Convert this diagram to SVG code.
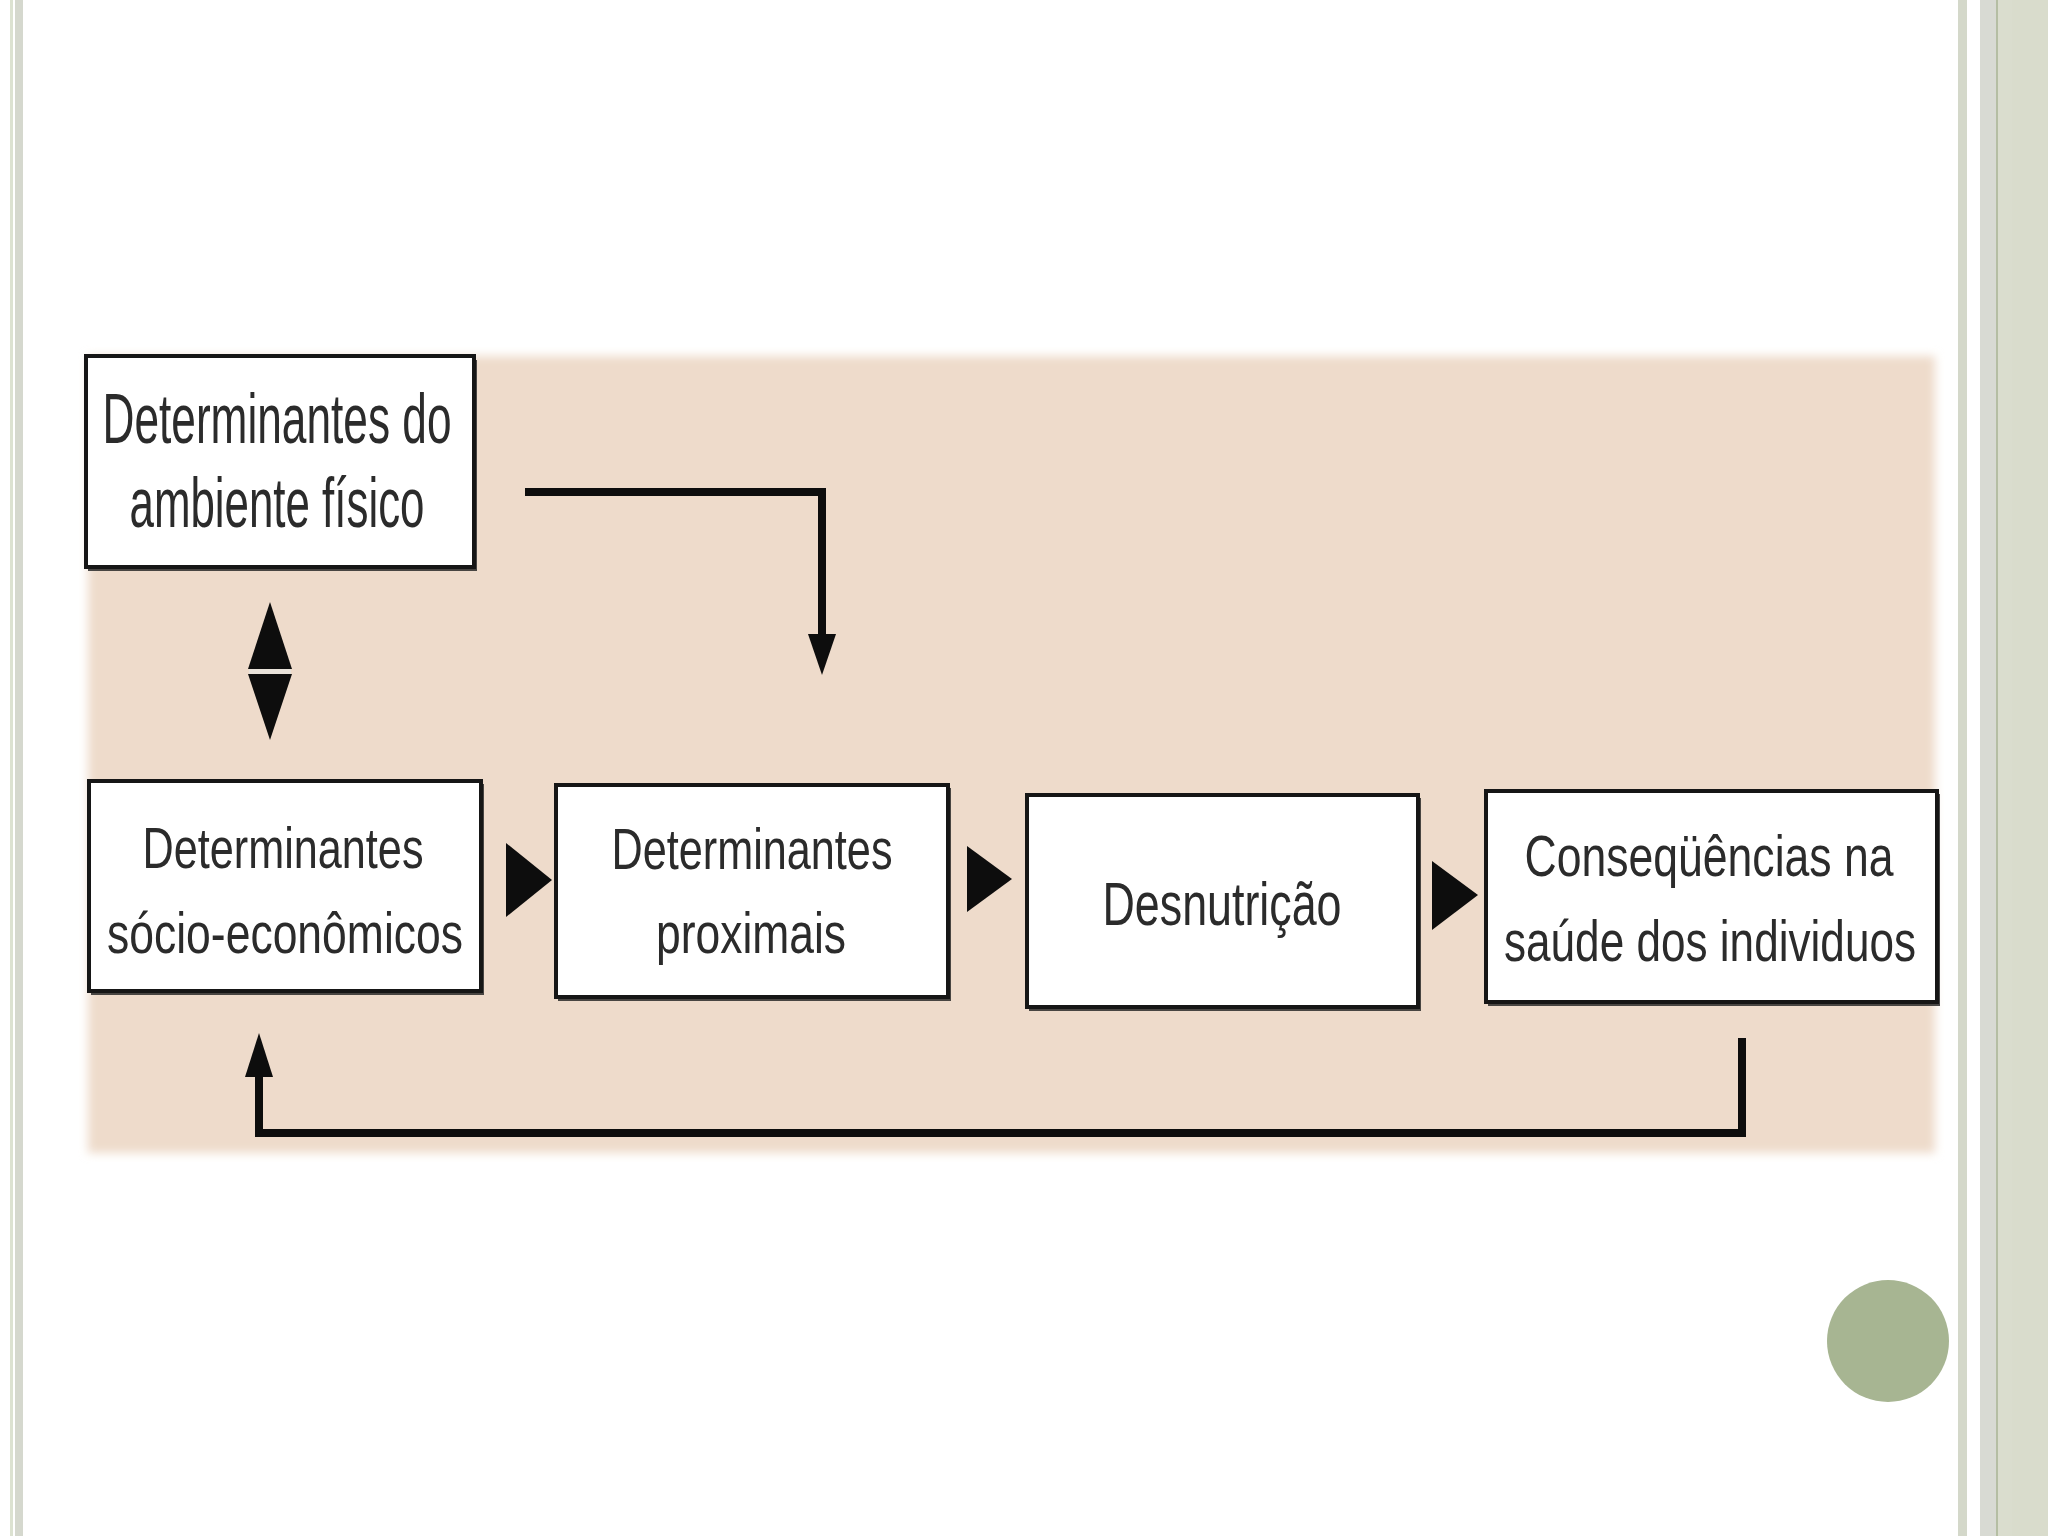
<svg xmlns="http://www.w3.org/2000/svg" width="2048" height="1536" viewBox="0 0 2048 1536">
<defs>
<style>
.box{fill:#FFFFFF;stroke:#161616;stroke-width:4}
.shadow{fill:#2a2a2a;opacity:0.85}
.lbl{font-family:"Liberation Sans","Arial",sans-serif;fill:#2b2b2b}
.conn{fill:none;stroke:#0d0d0d;stroke-width:8;stroke-linejoin:miter}
.head{fill:#0d0d0d}
</style>
<filter id="soft" x="-5%" y="-5%" width="110%" height="110%"><feGaussianBlur stdDeviation="5"/></filter>
</defs>
<rect x="0" y="0" width="2048" height="1536" fill="#FFFFFF"/>
<g id="frame">
<rect x="10" y="0" width="3" height="1536" fill="#DCE2D1"/>
<rect x="15" y="0" width="8" height="1536" fill="#D5D8CE"/>
<rect x="1958" y="0" width="9" height="1536" fill="#D4D8CA"/>
<rect x="1980" y="0" width="16" height="1536" fill="#D8DAD3"/>
<rect x="1996" y="0" width="2" height="1536" fill="#B5BEA3"/>
<rect x="1998" y="0" width="50" height="1536" fill="#DADDCE"/>
<rect x="2012" y="0" width="36" height="1536" fill="#D9DCCC"/>
</g>
<circle id="dot" cx="1888" cy="1341" r="61" fill="#A7B592"/>
<rect id="panel" x="88" y="356" width="1847" height="797" fill="#EEDBCB" filter="url(#soft)"/>
<g id="node-ambiente">
<rect class="shadow" x="88" y="360" width="389" height="211"/>
<rect class="box" x="86" y="356" width="388" height="211"/>
<text class="lbl" x="277" y="443" font-size="70" text-anchor="middle" textLength="349" lengthAdjust="spacingAndGlyphs">Determinantes do</text>
<text class="lbl" x="277" y="527" font-size="70" text-anchor="middle" textLength="295" lengthAdjust="spacingAndGlyphs">ambiente físico</text>
</g>
<g id="node-socio">
<rect class="shadow" x="91" y="784" width="393" height="211"/>
<rect class="box" x="89" y="781" width="392" height="210"/>
<text class="lbl" x="283" y="868" font-size="58" text-anchor="middle" textLength="281" lengthAdjust="spacingAndGlyphs">Determinantes</text>
<text class="lbl" x="285" y="953" font-size="58" text-anchor="middle" textLength="356" lengthAdjust="spacingAndGlyphs">sócio-econômicos</text>
</g>
<g id="node-proximais">
<rect class="shadow" x="558" y="788" width="393" height="213"/>
<rect class="box" x="556" y="785" width="392" height="212"/>
<text class="lbl" x="752" y="869" font-size="58" text-anchor="middle" textLength="281" lengthAdjust="spacingAndGlyphs">Determinantes</text>
<text class="lbl" x="751" y="953" font-size="58" text-anchor="middle" textLength="190" lengthAdjust="spacingAndGlyphs">proximais</text>
</g>
<g id="node-desnutricao">
<rect class="shadow" x="1029" y="798" width="392" height="213"/>
<rect class="box" x="1027" y="795" width="391" height="212"/>
<text class="lbl" x="1222" y="925" font-size="62" text-anchor="middle" textLength="239" lengthAdjust="spacingAndGlyphs">Desnutrição</text>
</g>
<g id="node-consequencias">
<rect class="shadow" x="1488" y="794" width="452" height="212"/>
<rect class="box" x="1486" y="791" width="451" height="211"/>
<text class="lbl" x="1709" y="876" font-size="57" text-anchor="middle" textLength="369" lengthAdjust="spacingAndGlyphs">Conseqüências na</text>
<text class="lbl" x="1710" y="961" font-size="57" text-anchor="middle" textLength="412" lengthAdjust="spacingAndGlyphs">saúde dos individuos</text>
</g>
<g id="connectors">
<polygon class="head" points="270,602 248,669 292,669"/>
<polygon class="head" points="248,674 292,674 270,740"/>
<rect x="249" y="669" width="42" height="5" fill="#E8E2DA"/>
<path class="conn" d="M525,492 H822 V640"/>
<polygon class="head" points="808,634 836,634 822,675"/>
<polygon class="head" points="506,843 552,880 506,917"/>
<polygon class="head" points="967,846 1012,879 967,912"/>
<polygon class="head" points="1432,861 1478,895 1432,930"/>
<path class="conn" d="M1742,1038 V1133 H259 V1072"/>
<polygon class="head" points="245,1077 273,1077 259,1033"/>
</g>
</svg>
